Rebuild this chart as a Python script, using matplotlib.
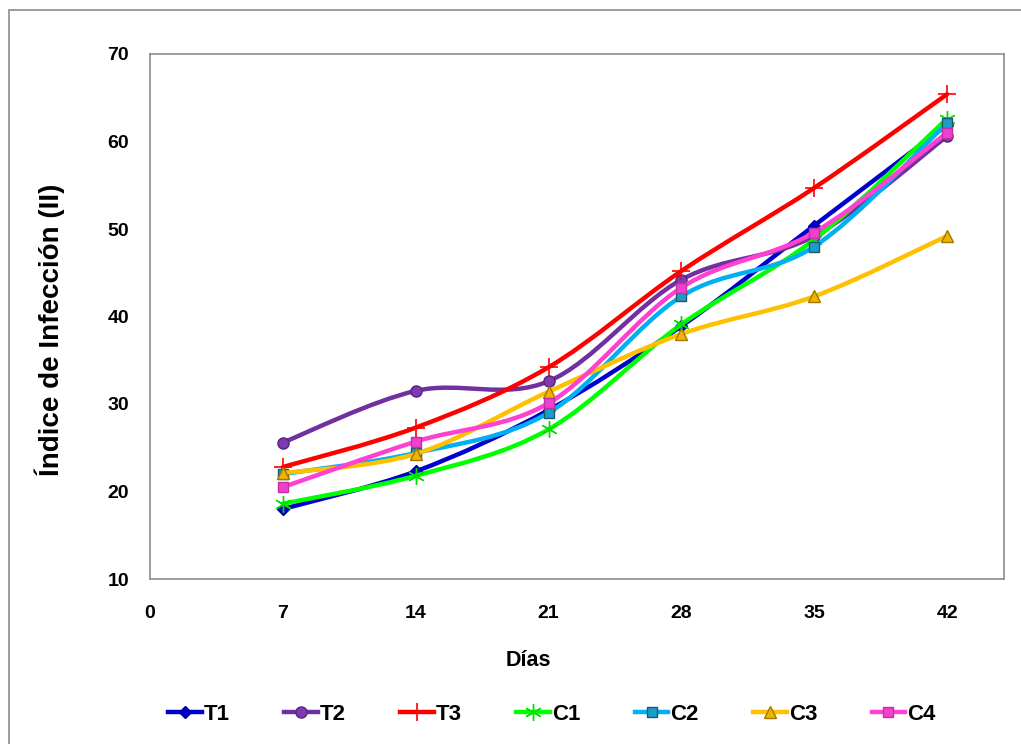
import numpy as np
import matplotlib
matplotlib.use('Agg')
import matplotlib.pyplot as plt
from matplotlib.path import Path
from matplotlib.patches import PathPatch, Rectangle
from matplotlib.lines import Line2D

# Días de muestreo e Índice de Infección por tratamiento
dias = [7, 14, 21, 28, 35, 42]
T1 = [18.0, 22.3, 29.3, 38.9, 50.4, 61.9]
T2 = [25.6, 31.5, 32.6, 44.2, 49.2, 60.6]
T3 = [22.8, 27.3, 34.2, 45.2, 54.7, 65.4]
C1 = [18.6, 21.8, 27.1, 39.1, 48.8, 62.6]
C2 = [22.0, 24.4, 29.0, 42.3, 48.0, 62.1]
C3 = [22.1, 24.3, 31.4, 38.0, 42.3, 49.2]
C4 = [20.5, 25.7, 30.1, 43.3, 49.6, 61.0]

series = [
    ('T1', T1, '#0000CC', dict(marker='D', ms=6, mfc='#0000CC', mec='#000099')),
    ('T2', T2, '#7030A0', dict(marker='o', ms=8, mfc='#7C3CB0', mec='#5A2080')),
    ('T3', T3, '#FF0000', dict(marker='+', ms=13, mew=1.2, mec='#FF0000')),
    ('C1', C1, '#00FF00', dict(marker=(6, 2, 0), ms=12, mew=1.0, mec='#00E000')),
    ('C2', C2, '#00B0F0', dict(marker='s', ms=7.5, mfc='#1E9CC8', mec='#1A5A70')),
    ('C3', C3, '#FFC000', dict(marker='^', ms=9, mfc='#F0B400', mec='#A07800')),
    ('C4', C4, '#FF40D0', dict(marker='s', ms=7.5, mfc='#F040D0', mec='#C030A0')),
]


def smooth_path(xs, ys):
    # curva suavizada tipo Excel (Bezier por tramos)
    pts = np.column_stack([xs, ys]).astype(float)
    n = len(pts)
    verts = [pts[0]]
    codes = [Path.MOVETO]
    for i in range(n - 1):
        p0 = pts[i - 1] if i > 0 else pts[i]
        p1 = pts[i]
        p2 = pts[i + 1]
        p3 = pts[i + 2] if i + 2 < n else pts[i + 1]
        verts += [p1 + (p2 - p0) / 6.0, p2 - (p3 - p1) / 6.0, p2]
        codes += [Path.CURVE4] * 3
    return Path(verts, codes)


plt.rcParams['font.family'] = ['Liberation Sans', 'DejaVu Sans']
plt.rcParams['font.weight'] = 'bold'

fig = plt.figure(figsize=(10.21, 7.44), dpi=100)
ax = fig.add_axes([150 / 1021, 1 - 579 / 744, (1004 - 150) / 1021, (579 - 54) / 744])

handles = []
for k, (name, vals, col, mk) in enumerate(series):
    patch = PathPatch(smooth_path(dias, vals), facecolor='none', edgecolor=col,
                      lw=3.2, zorder=2 + k, capstyle='round', joinstyle='round')
    ax.add_patch(patch)
    ax.plot(dias, vals, ls='none', zorder=2.5 + k, **mk)
    handles.append(Line2D([], [], color=col, lw=3.2, label=name, **mk))

ax.set_xlim(0, 45)
ax.set_ylim(10, 70)
ax.set_xticks([0, 7, 14, 21, 28, 35, 42])
ax.set_yticks(range(10, 71, 10))
ax.tick_params(length=0, labelsize=14)
ax.tick_params(axis='x', pad=19)
ax.tick_params(axis='y', pad=15)
for s in ax.spines.values():
    s.set_color('#8C8C8C')
    s.set_linewidth(1.2)

fig.text(528 / 1021, 1 - 660 / 744, 'Días', ha='center', va='center',
         fontsize=15.5, fontweight='bold')
fig.text(50 / 1021, 1 - 330 / 744, 'Índice de Infección (II)', ha='center',
         va='center', rotation=90, fontsize=20, fontweight='bold')

fig.legend(handles=handles, loc='center', bbox_to_anchor=(552 / 1021, 1 - 714 / 744),
           ncol=7, frameon=False, handlelength=1.5,
           handletextpad=0.1, columnspacing=2.45, prop={'weight': 'bold', 'size': 16})

# marco exterior del gráfico
fig.patches.append(Rectangle((9 / 1021, -0.05), 1.2, 1 - 10 / 744 + 0.05,
                             transform=fig.transFigure, fill=False,
                             edgecolor='#8C8C8C', lw=1.2))

fig.savefig('out.png', dpi=100)
